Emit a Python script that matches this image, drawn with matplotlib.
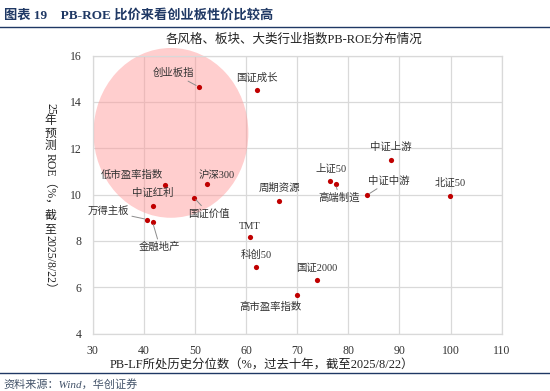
import matplotlib
matplotlib.use("Agg")
import matplotlib.pyplot as plt
from matplotlib.patches import Ellipse
from matplotlib.lines import Line2D

plt.rcParams['font.family'] = ['Liberation Serif', 'Noto Sans CJK SC', 'DejaVu Sans']

names = ['创业板指', '国证成长', '沪深300', '国证价值', '周期资源', '上证50', '高端制造',
         '中证上游', '中证中游', '北证50', '低市盈率指数', '中证红利', '万得主板', '金融地产',
         'TMT', '科创50', '国证2000', '高市盈率指数']
pb_pct = [50.7, 62.1, 52.4, 49.8, 66.5, 76.5, 77.5, 88.3, 83.7, 99.9, 44.2, 41.8, 40.7, 41.7,
          60.7, 62.0, 73.8, 69.9]
roe = [14.65, 14.5, 10.45, 9.87, 9.74, 10.6, 10.44, 11.51, 9.98, 9.93, 10.4, 9.51, 8.92, 8.82,
       8.15, 6.85, 6.31, 5.65]
# label offsets in pixels (dx, dy) and whether a leader line is drawn
label_off = [(-25, 13.5), (0, 12.7), (9.4, 9), (14.6, -16), (0, 12.3), (0.4, 12), (4, -13.3),
             (0, 12.6), (22, 14), (0, 12.7), (-33, 10), (0, 13), (-39, 8.3), (7.3, -25),
             (0.3, 11.3), (0, 12.3), (0, 12), (-26, -11.4)]
leader = [True, False, False, True, False, False, True, False, True, False, False, False, True,
          True, False, False, False, False]

xticks = [30, 40, 50, 60, 70, 80, 90, 100, 110]
yticks = [4, 6, 8, 10, 12, 14, 16]
ylabel = '25年预测ROE（%，截至2025/8/22）'

W, H = 550, 391
fig = plt.figure(figsize=(5.5, 3.91), dpi=100)
ax = fig.add_axes([92.7/W, 1-333.5/H, (501.7-92.7)/W, (333.5-55.5)/H])
ax.set_xlim(30, 110)
ax.set_ylim(4, 16)
ax.set_xticks(xticks)
ax.set_yticks(yticks)
ax.grid(True, color='#D9D9D9', linewidth=0.9, zorder=0)
ax.set_axisbelow(True)
for s in ax.spines.values():
    s.set_color('#D9D9D9')
    s.set_linewidth(0.9)
ax.tick_params(length=0, labelsize=8.5, colors='#333333', pad=8)

ell = Ellipse((45.3, 12.66), 30.3, 7.33, facecolor=(1, 0.6, 0.6, 0.48), edgecolor='none',
              zorder=1, clip_on=False)
ax.add_patch(ell)

ax.scatter(pb_pct, roe, s=14, color='#C00000', zorder=4, linewidths=0)

for n, x, y, (dx, dy), ld in zip(names, pb_pct, roe, label_off, leader):
    kw = {}
    if ld:
        kw['arrowprops'] = dict(arrowstyle='-', color='#8C8C8C', lw=0.7, shrinkA=0, shrinkB=2)
    ax.annotate(n, (x, y), xytext=(dx, dy), textcoords='offset pixels',
                ha='center', va='center', fontsize=7.5, color='#333333', zorder=5, **kw)

fig.text(294/W, 1-40/H, '各风格、板块、大类行业指数PB-ROE分布情况', ha='center', va='center',
         fontsize=9, color='#222222')
fig.text(262/W, 1-364.5/H, 'PB-LF所处历史分位数（%，过去十年，截至2025/8/22）', ha='center',
         va='center', fontsize=8.9, color='#222222')

# vertical y label: CJK ideographs upright, other runs rotated
def is_cjk(c):
    return '\u4e00' <= c <= '\u9fff'

segs = []
for c in ylabel:
    if is_cjk(c):
        segs.append((c, True))
    else:
        if segs and not segs[-1][1]:
            segs[-1] = (segs[-1][0] + c, False)
        else:
            segs.append((c, False))

renderer = fig.canvas.get_renderer()
items = []
total = 0
for s, up in segs:
    t = fig.text(0, 0, s, rotation=0 if up else 270, ha='center', va='center',
                 fontsize=8.5, color='#222222')
    bb = t.get_window_extent(renderer)
    h = bb.height + (0.5 if up else 0.5)
    items.append((t, h))
    total += h
ycen = 199
ytop = ycen - total/2
cur = ytop
for t, h in items:
    t.set_position((50/W, 1-(cur + h/2)/H))
    cur += h

fig.text(4/W, 1-15/H, '图表 19    PB-ROE 比价来看创业板性价比较高', ha='left', va='center',
         fontsize=9.5, fontweight='bold', color='#1F3864')
fig.add_artist(Line2D([0, 1], [1-27/H, 1-27/H], color='#1F3864', lw=1.0))
fig.add_artist(Line2D([0, 1], [1-373/H, 1-373/H], color='#1F3864', lw=1.0))
fig.text(3/W, 1-384/H, '资料来源：Wind，华创证券', ha='left', va='center', fontsize=8,
         style='italic', color='#44546A')

fig.savefig('out.png', dpi=100)
